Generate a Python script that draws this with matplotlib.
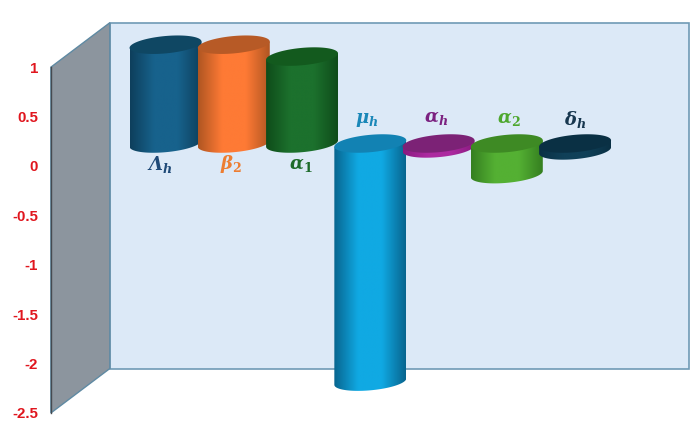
import numpy as np
import matplotlib
matplotlib.use("Agg")
import matplotlib.pyplot as plt
from matplotlib.colors import LinearSegmentedColormap
from matplotlib.patches import Polygon, PathPatch
from matplotlib.path import Path

plt.rcParams['font.family'] = ['Liberation Sans', 'DejaVu Sans']
plt.rcParams['mathtext.fontset'] = 'custom'
plt.rcParams['mathtext.bfit'] = 'DejaVu Serif:italic:bold'
plt.rcParams['mathtext.bf'] = 'DejaVu Serif:bold'
plt.rcParams['mathtext.rm'] = 'DejaVu Serif'
plt.rcParams['mathtext.it'] = 'DejaVu Serif:italic'

categories = [r'\mathbfit{\Lambda}_{\mathbfit{h}}', r'\mathbfit{\beta}_{\mathbf{2}}', r'\mathbfit{\alpha}_{\mathbf{1}}',
              r'\mathbfit{\mu}_{\mathbfit{h}}', r'\mathbfit{\alpha}_{\mathbfit{h}}', r'\mathbfit{\alpha}_{\mathbf{2}}',
              r'\mathbfit{\delta}_{\mathbfit{h}}']
values = [1.0, 1.0, 0.88, -2.41, -0.05, -0.31, -0.07]
edge_colors = ['#0e3f5c', '#b05622', '#0f4c1a', '#08658f', '#8a1a80', '#357f20', '#0a3044']
mid_colors = ['#17628c', '#fe7a35', '#1c712d', '#10a9e3', '#ac2aa0', '#54b033', '#104058']
top_colors = ['#0f4763', '#b75a26', '#135a1e', '#1282b3', '#7c2276', '#3e8a24', '#0a3044']
label_colors = ['#1f4a78', '#ed7d31', '#1d6b2a', '#1a87b8', '#7b2180', '#4ea72e', '#17374f']
yticks = [1, 0.5, 0, -0.5, -1, -1.5, -2, -2.5]
yticklabels = ['1', '0.5', '0', '-0.5', '-1', '-1.5', '-2', '-2.5']

# label anchors: index offset and height above the bars' zero plane
label_x = [-0.08, -0.04, -0.02, -0.05, -0.04, 0.03, 0.0]
label_y = [-0.21, -0.21, -0.22, 0.24, 0.25, 0.24, 0.24]

fig = plt.figure(figsize=(7.0, 4.37), dpi=100)
ax = fig.add_axes([0, 0, 1, 1])
ax.set_xlim(-2.425, 7.83)
ax.set_ylim(-2.743, 1.68)
for s in ax.spines.values():
    s.set_visible(False)
ax.set_xticks([])
ax.set_yticks(yticks)
ax.set_yticklabels(yticklabels, color='#e0161e', fontweight='bold', fontsize=10.8)
ax.tick_params(axis='y', length=0, pad=-27.5)

XF, DX, DY = -1.68, 0.864, 0.45
XR = 7.675
YT, YB = max(yticks), min(yticks)

ax.add_patch(Polygon([[XF + DX, YB + DY], [XR, YB + DY], [XR, YT + DY], [XF + DX, YT + DY]],
                     closed=True, fc='#dce9f7', ec='#6f9ab5', lw=1.2, zorder=1))
ax.add_patch(Polygon([[XF, YB], [XF + DX, YB + DY], [XF + DX, YT + DY], [XF, YT]],
                     closed=True, fc='#8c959e', ec='#5f8aa3', lw=1.0, zorder=2))
ax.plot([XF, XF], [YB, YT], color='#454a50', lw=1.0, zorder=3)

A, B, S = 0.527, 0.088, 0.032
T0 = 0.2275
tt = np.linspace(0, 2 * np.pi, 121)
lower = np.linspace(np.pi, 2 * np.pi, 61)


def ring(cx, cy, t):
    return cx + A * np.cos(t), cy + B * np.sin(t) + S * np.cos(t)


z = 5
for i, v in enumerate(values):
    top = T0 + max(v, 0)
    bot = T0 + min(v, 0)
    cm = LinearSegmentedColormap.from_list('c', [edge_colors[i], mid_colors[i], mid_colors[i], edge_colors[i]])
    xb, yb = ring(i, bot, lower)
    xt, yt = ring(i, top, tt)
    verts = np.column_stack([np.r_[xb, i + A, i - A], np.r_[yb, top + S, top - S]])
    verts = np.vstack([verts, verts[0]])
    codes = [Path.MOVETO] + [Path.LINETO] * (len(verts) - 2) + [Path.CLOSEPOLY]
    im = ax.imshow(np.linspace(0, 1, 128)[None, :], cmap=cm, aspect='auto',
                   extent=[i - A, i + A, bot - B - S, top + B + S], zorder=z, interpolation='bilinear')
    im.set_clip_path(PathPatch(Path(verts, codes), transform=ax.transData))
    ax.add_patch(Polygon(np.column_stack([xt, yt]), closed=True, fc=top_colors[i], ec='none', zorder=z + 0.5))
    z += 1

for i, name in enumerate(categories):
    ax.text(i + label_x[i], T0 + label_y[i], '$' + name + '$',
            color=label_colors[i], fontsize=13, ha='center', va='center', zorder=20)

ax.set_xlim(-2.425, 7.83)
ax.set_ylim(-2.743, 1.68)
fig.savefig('out.png', dpi=100, facecolor='white')
